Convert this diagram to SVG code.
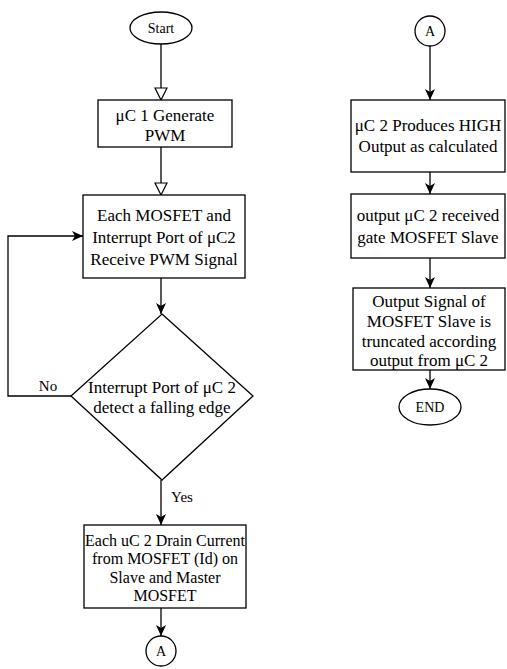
<svg xmlns="http://www.w3.org/2000/svg" width="507" height="669" viewBox="0 0 507 669">
<defs>
<style>
.s{fill:#fff;stroke:#000;stroke-width:1.3}
.t{font-family:"Liberation Serif","Times New Roman",serif;font-size:17px;fill:#000;text-anchor:middle}
.t2{font-family:"Liberation Serif","Times New Roman",serif;font-size:16px;fill:#000;text-anchor:middle}
.ts{font-family:"Liberation Serif","Times New Roman",serif;font-size:14px;fill:#000;text-anchor:middle}
.c{fill:none;stroke:#000;stroke-width:1.3}
</style>
<marker id="ho" markerUnits="userSpaceOnUse" markerWidth="14" markerHeight="14" viewBox="0 0 14 14" refX="13" refY="7" orient="auto">
<path d="M1,1 L13,7 L1,13 Z" fill="#fff" stroke="#000" stroke-width="1.2"/>
</marker>
<marker id="fa" markerUnits="userSpaceOnUse" markerWidth="12" markerHeight="12" viewBox="0 0 12 12" refX="11" refY="6" orient="auto">
<path d="M0,1 L11,6 L0,11 L3,6 Z" fill="#000"/>
</marker>
</defs>
<g id="connectors">
<line class="c" x1="161" y1="44" x2="161" y2="100" marker-end="url(#ho)"/>
<line class="c" x1="161" y1="147" x2="161" y2="195" marker-end="url(#ho)"/>
<line class="c" x1="161" y1="278" x2="161" y2="314" marker-end="url(#fa)"/>
<polyline class="c" points="71,396 8,396 8,236 83,236" marker-end="url(#fa)"/>
<line class="c" x1="161" y1="480" x2="161" y2="525" marker-end="url(#fa)"/>
<line class="c" x1="161" y1="608" x2="161" y2="636" marker-end="url(#fa)"/>
<line class="c" x1="430" y1="46" x2="430" y2="100" marker-end="url(#fa)"/>
<line class="c" x1="430" y1="172" x2="430" y2="194" marker-end="url(#fa)"/>
<line class="c" x1="430" y1="258" x2="430" y2="288" marker-end="url(#fa)"/>
<line class="c" x1="430" y1="370" x2="430" y2="389" marker-end="url(#fa)"/>
<text class="ts" x="48" y="391" style="font-size:15px">No</text>
<text class="ts" x="182" y="502" style="font-size:15px">Yes</text>
</g>
<g id="start">
<ellipse class="s" cx="161" cy="28" rx="31" ry="16"/>
<text class="ts" x="161" y="33">Start</text>
</g>
<g id="gen-pwm">
<rect class="s" x="98" y="100" width="134" height="47"/>
<text class="t" x="165" y="121">μC 1 Generate</text>
<text class="t" x="165" y="141">PWM</text>
</g>
<g id="receive-pwm">
<rect class="s" x="83" y="195" width="162" height="83"/>
<text class="t" x="164" y="221">Each MOSFET and</text>
<text class="t" x="164" y="243">Interrupt Port of μC2</text>
<text class="t" x="164" y="265">Receive PWM Signal</text>
</g>
<g id="decision">
<polygon class="s" points="162,314 253,396 162,480 71,396"/>
<text class="t" x="162" y="393">Interrupt Port of μC 2</text>
<text class="t" x="162" y="413">detect a falling edge</text>
</g>
<g id="drain-current">
<rect class="s" x="84" y="525" width="162" height="83"/>
<text class="t2" x="165" y="546">Each uC 2 Drain Current</text>
<text class="t2" x="165" y="564">from MOSFET (Id) on</text>
<text class="t2" x="165" y="583">Slave and Master</text>
<text class="t2" x="165" y="601">MOSFET</text>
</g>
<g id="connector-a1">
<circle class="s" cx="161" cy="651" r="15"/>
<text class="ts" x="161" y="656">A</text>
</g>
<g id="connector-a2">
<circle class="s" cx="430" cy="31" r="15"/>
<text class="ts" x="430" y="36">A</text>
</g>
<g id="high-output">
<rect class="s" x="351" y="100" width="154" height="72"/>
<text class="t" x="428" y="131">μC 2 Produces HIGH</text>
<text class="t" x="428" y="152">Output as calculated</text>
</g>
<g id="gate-slave">
<rect class="s" x="351" y="194" width="154" height="64"/>
<text class="t" x="428" y="221">output μC 2 received</text>
<text class="t" x="428" y="243">gate MOSFET Slave</text>
</g>
<g id="truncated">
<rect class="s" x="353" y="288" width="152" height="82"/>
<text class="t" x="429" y="307">Output Signal of</text>
<text class="t" x="429" y="327">MOSFET Slave is</text>
<text class="t" x="429" y="347">truncated according</text>
<text class="t" x="429" y="366">output from μC 2</text>
</g>
<g id="end">
<ellipse class="s" cx="430" cy="407" rx="31" ry="18"/>
<text class="ts" x="430" y="412">END</text>
</g>
</svg>
